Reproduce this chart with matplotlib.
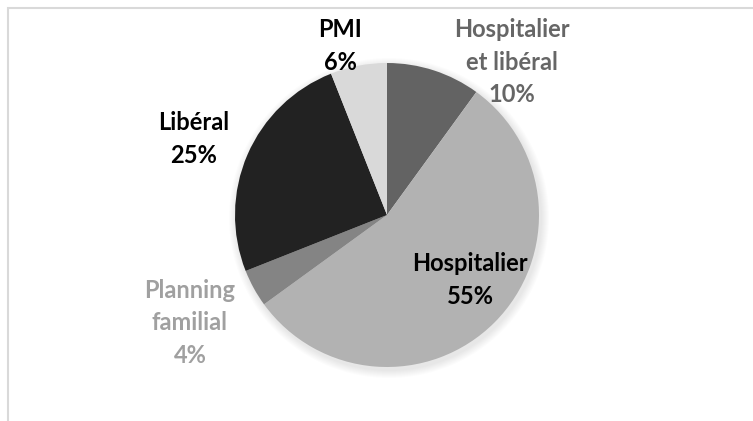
import matplotlib.pyplot as plt
from matplotlib.patches import Circle, Rectangle

# data
labels = ['Hospitalier\net libéral', 'Hospitalier', 'Planning\nfamilial', 'Libéral', 'PMI']
values = [10, 55, 4, 25, 6]
colors = ['#636363', '#b2b2b2', '#848484', '#222222', '#d9d9d9']
text_colors = ['#666666', '#000000', '#a0a0a0', '#000000', '#000000']
# label positions in pixels (x, y from top)
label_pos = [(512, 62), (470, 280), (190, 323), (194, 139), (340, 46)]

W, H = 753, 421
fig = plt.figure(figsize=(W / 100, H / 100), dpi=100)
fig.patch.set_facecolor('white')

# outer frame (chart is cropped, only top and left edges visible)
fig.add_artist(Rectangle((8 / W, -0.2), 2, (H - 8) / H + 0.2, transform=fig.transFigure,
                         fill=False, edgecolor='#d9d9d9', linewidth=1.5))

ax = fig.add_axes([0, 0, 1, 1])
ax.set_xlim(0, W)
ax.set_ylim(0, H)
ax.set_aspect('equal')
ax.axis('off')

cx, cy, r = 387, H - 215, 152

# soft shadow
for k in range(8):
    ax.add_patch(Circle((cx + 2, cy - 3), r + 8 - k, facecolor='black', alpha=0.012, edgecolor='none'))

ax.pie(values, colors=colors, startangle=90, counterclock=False,
       center=(cx, cy), radius=r, wedgeprops=dict(linewidth=0), frame=True)
ax.set_xlim(0, W)
ax.set_ylim(0, H)
ax.axis('off')

for lab, v, c, (x, y) in zip(labels, values, text_colors, label_pos):
    ax.text(x, H - y, f'{lab}\n{v}%', ha='center', va='center', color=c,
            fontsize=17, fontweight='bold', family='Lato', linespacing=1.5)

fig.savefig('out.png', dpi=100)
